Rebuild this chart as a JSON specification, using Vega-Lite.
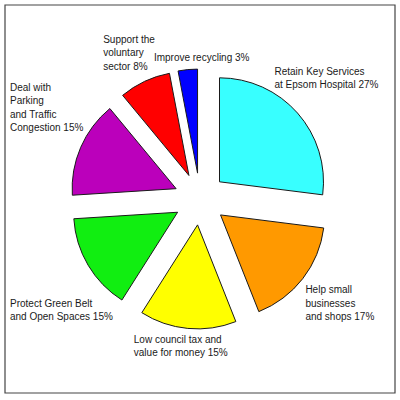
{
  "$schema": "https://vega.github.io/schema/vega-lite/v6.json",
  "width": 390,
  "height": 388,
  "autosize": "none",
  "padding": {"left": 5, "top": 5, "right": 5, "bottom": 7},
  "background": "white",
  "config": {"view": {"stroke": null}},
  "data": {
    "values": [
      {"order": 1, "cat": "Hospital", "pct": 27, "lines": ["Retain Key Services", "at Epsom Hospital 27%"]},
      {"order": 2, "cat": "Businesses", "pct": 17, "lines": ["Help small", "businesses", "and shops 17%"]},
      {"order": 3, "cat": "Council tax", "pct": 15, "lines": ["Low council tax and", "value for money 15%"]},
      {"order": 4, "cat": "Green Belt", "pct": 15, "lines": ["Protect Green Belt", "and Open Spaces 15%"]},
      {"order": 5, "cat": "Parking", "pct": 15, "lines": ["Deal with", "Parking", "and Traffic", "Congestion 15%"]},
      {"order": 6, "cat": "Voluntary", "pct": 8, "lines": ["Support the", "voluntary", "sector 8%"]},
      {"order": 7, "cat": "Recycling", "pct": 3, "lines": ["Improve recycling 3%"]}
    ]
  },
  "layer": [
    {
      "data": {"values": [{"frame": "border"}]},
      "mark": {"type": "rect", "fill": "transparent", "stroke": "#444444", "strokeWidth": 1.2},
      "encoding": {}
    },
    {
      "mark": {
        "type": "arc",
        "radius": 104,
        "stroke": "#1a1a1a",
        "strokeWidth": 1,
        "xOffset": {"expr": "26*sin(scale('theta', (datum.pct_start + datum.pct_end) / 2))"},
        "yOffset": {"expr": "-26*cos(scale('theta', (datum.pct_start + datum.pct_end) / 2))"}
      },
      "encoding": {
        "theta": {"field": "pct", "type": "quantitative", "stack": true},
        "order": {"field": "order", "type": "quantitative"},
        "color": {
          "field": "cat",
          "type": "nominal",
          "legend": null,
          "scale": {
            "domain": ["Hospital", "Businesses", "Council tax", "Green Belt", "Parking", "Voluntary", "Recycling"],
            "range": ["#38FFFF", "#FF9900", "#FFFF00", "#11EE11", "#BB00BB", "#FF0000", "#0000FF"]
          }
        }
      }
    },
    {
      "mark": {
        "type": "text",
        "radius": 0,
        "dx": {"expr": "clamp((130+abs(sin(scale('theta',(datum.pct_start+datum.pct_end)/2)))*(2.75*max(length(datum.lines[0]),length(datum.lines[1]||''),length(datum.lines[2]||''),length(datum.lines[3]||'')))+abs(cos(scale('theta',(datum.pct_start+datum.pct_end)/2)))*(6.7*length(datum.lines)))*sin(scale('theta',(datum.pct_start+datum.pct_end)/2))+0.5*(2.75*max(length(datum.lines[0]),length(datum.lines[1]||''),length(datum.lines[2]||''),length(datum.lines[3]||'')))*max(0,cos(scale('theta',(datum.pct_start+datum.pct_end)/2))*(1-2*abs(sin(scale('theta',(datum.pct_start+datum.pct_end)/2))))),-190+(2.75*max(length(datum.lines[0]),length(datum.lines[1]||''),length(datum.lines[2]||''),length(datum.lines[3]||''))),190-(2.75*max(length(datum.lines[0]),length(datum.lines[1]||''),length(datum.lines[2]||''),length(datum.lines[3]||''))))-(2.75*max(length(datum.lines[0]),length(datum.lines[1]||''),length(datum.lines[2]||''),length(datum.lines[3]||'')))"},
        "dy": {"expr": "(cos(scale('theta',(datum.pct_start+datum.pct_end)/2))>0?-1:1)*max((130+abs(sin(scale('theta',(datum.pct_start+datum.pct_end)/2)))*(2.75*max(length(datum.lines[0]),length(datum.lines[1]||''),length(datum.lines[2]||''),length(datum.lines[3]||'')))+abs(cos(scale('theta',(datum.pct_start+datum.pct_end)/2)))*(6.7*length(datum.lines)))*abs(cos(scale('theta',(datum.pct_start+datum.pct_end)/2))),sqrt(max(0,16900-pow(clamp((130+abs(sin(scale('theta',(datum.pct_start+datum.pct_end)/2)))*(2.75*max(length(datum.lines[0]),length(datum.lines[1]||''),length(datum.lines[2]||''),length(datum.lines[3]||'')))+abs(cos(scale('theta',(datum.pct_start+datum.pct_end)/2)))*(6.7*length(datum.lines)))*sin(scale('theta',(datum.pct_start+datum.pct_end)/2)),-190+(2.75*max(length(datum.lines[0]),length(datum.lines[1]||''),length(datum.lines[2]||''),length(datum.lines[3]||''))),190-(2.75*max(length(datum.lines[0]),length(datum.lines[1]||''),length(datum.lines[2]||''),length(datum.lines[3]||''))))-(sin(scale('theta',(datum.pct_start+datum.pct_end)/2))>=0?1:-1)*(2.75*max(length(datum.lines[0]),length(datum.lines[1]||''),length(datum.lines[2]||''),length(datum.lines[3]||''))),2)))+(6.7*length(datum.lines)))-6.7*(length(datum.lines)-1)"},
        "align": "left",
        "baseline": "middle",
        "lineHeight": 13.4,
        "font": "Liberation Sans",
        "fontSize": 10,
        "color": "#1a1a1a"
      },
      "encoding": {
        "theta": {"field": "pct", "type": "quantitative", "stack": true},
        "order": {"field": "order", "type": "quantitative"},
        "text": {"field": "lines", "type": "nominal"}
      }
    }
  ]
}
